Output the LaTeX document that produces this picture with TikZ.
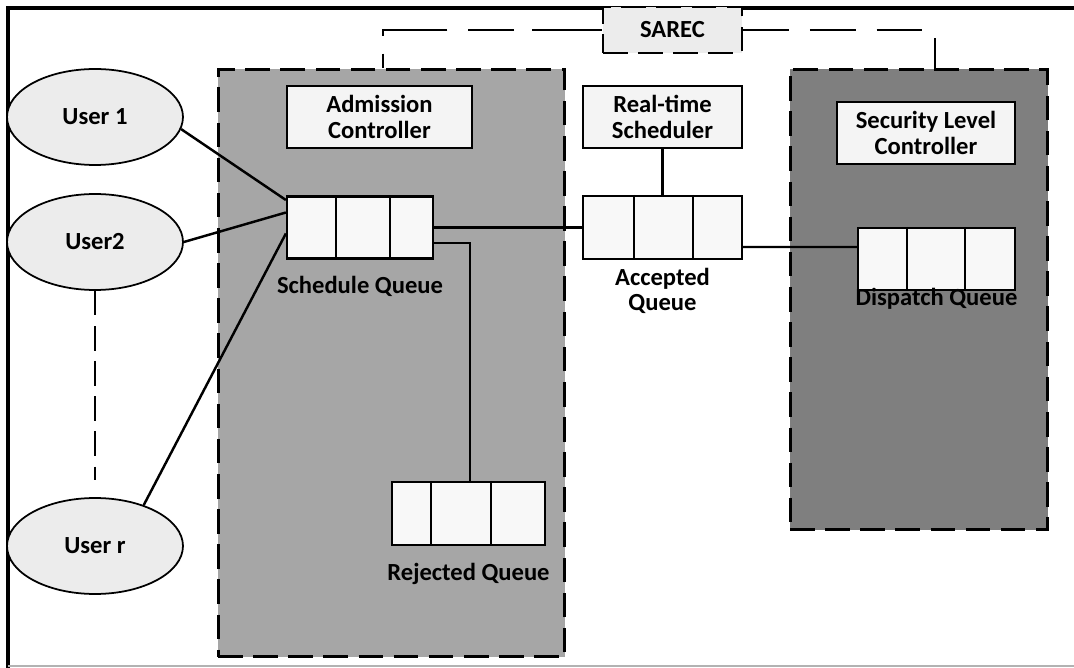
\documentclass[tikz,border=0pt]{standalone}
\usepackage{fontspec}
\setmainfont{Carlito}
\usepackage{tikz}
\usetikzlibrary{shapes.geometric,positioning}
\definecolor{admgray}{RGB}{166,166,166}
\definecolor{secgray}{RGB}{127,127,127}
\definecolor{usergray}{RGB}{236,236,236}
\definecolor{boxgray}{RGB}{244,244,244}

\begin{document}
\begin{tikzpicture}[x=0.02cm, y=-0.02cm, font=\fontsize{14}{14.5}\selectfont\bfseries,
  panel/.style={draw=black, line width=1.7pt, dash pattern=on 14pt off 6pt},
  user/.style={ellipse, draw, line width=1pt, fill=usergray, minimum width=3.52cm, minimum height=1.92cm, inner sep=0pt},
  ctrlbox/.style={draw, line width=1.3pt, fill=boxgray, align=center, inner sep=0pt},
  queuebox/.style={draw, line width=1.3pt, fill=boxgray!60, inner sep=0pt},
  link/.style={line width=1.4pt},
  sareclink/.style={line width=1.3pt, dash pattern=on 26pt off 12pt},
  qlabel/.style={inner sep=1pt, align=center}]
\useasboundingbox (0,0) rectangle (1074,668);
% Frame
\draw[line width=2pt] (8,668) -- (8,8) -- (1074,8);
\draw[gray!60, line width=0.8pt] (8,666) -- (1074,666);

% Panels
\node[panel, fill=admgray, minimum width=6.94cm, minimum height=11.76cm] (adm) at (391.5,363) {};
\node[panel, fill=secgray, minimum width=5.16cm, minimum height=9.22cm] (sec) at (919,299.5) {};

% SAREC
\node[ctrlbox, dash pattern=on 14pt off 6pt, fill=usergray, minimum width=2.78cm, minimum height=0.92cm] (sarec) at (672.5,30) {SAREC};
\draw[sareclink, dash pattern=on 40pt off 10pt on 26pt off 12pt] (sarec.west) -| ([xshift=-0.17cm]adm.north);
\draw[sareclink] (sarec.east) -| ([xshift=0.32cm]sec.north);

% Controllers
\node[ctrlbox, minimum width=3.7cm, minimum height=1.24cm] (ac) at (379.5,117) {Admission\\Controller};
\node[ctrlbox, minimum width=3.18cm, minimum height=1.24cm] (rts) at (662.5,117) {Real-time\\Scheduler};
\node[ctrlbox, minimum width=3.56cm, minimum height=1.24cm] (slc) at (926,133) {Security Level\\Controller};

% Users
\node[user] (u1) at (95,117) {User 1};
\node[user] (u2) at (95,242) {User2};
\node[user] (ur) at (95,546) {User r};

% Queues
\node[queuebox, minimum width=2.92cm, minimum height=1.24cm] (sq) at (360,227.5) {};
\draw[link] (sq.north west) ++(50,0) -- ++(0,62);
\draw[link] (sq.north west) ++(104,0) -- ++(0,62);
\node[queuebox, minimum width=3.18cm, minimum height=1.26cm] (aq) at (662.5,227.5) {};
\draw[link] (aq.north west) ++(52,0) -- ++(0,63);
\draw[link] (aq.north west) ++(111,0) -- ++(0,63);
\node[queuebox, minimum width=3.14cm, minimum height=1.24cm] (dq) at (936.5,259) {};
\draw[link] (dq.north west) ++(50,0) -- ++(0,62);
\draw[link] (dq.north west) ++(108,0) -- ++(0,62);
\node[queuebox, minimum width=3.06cm, minimum height=1.26cm] (rq) at (468.5,513.5) {};
\draw[link] (rq.north west) ++(40,0) -- ++(0,63);
\draw[link] (rq.north west) ++(100,0) -- ++(0,63);

% Queue labels
\node[qlabel, below=0.3cm of sq] (sqlab) {Schedule Queue};
\node[qlabel, below=0.12cm of aq] (aqlab) {Accepted\\Queue};
\node[qlabel] (dqlab) at ([yshift=-0.16cm]dq.south) {Dispatch Queue};
\node[qlabel, below=0.3cm of rq] (rqlab) {Rejected Queue};

% Links
\draw[link] (u1.-8) -- ([yshift=0.55cm]sq.west);
\draw[link] (u2.east) -- ([yshift=0.3cm]sq.west);
\draw[link] (ur.40) -- ([yshift=-0.12cm]sq.west);
\draw[link, dash pattern=on 14pt off 6pt, shorten >=0.34cm] (u2) -- (ur);
\draw[link] (sq.east) -- (aq.west);
\draw[link] ([yshift=-0.31cm]sq.east) -| ([xshift=0.03cm]rq.north);
\draw[link] (rts) -- (aq);
\draw[link] ([yshift=-0.39cm]aq.east) -- ([yshift=0.24cm]dq.west);
\end{tikzpicture}
\end{document}
